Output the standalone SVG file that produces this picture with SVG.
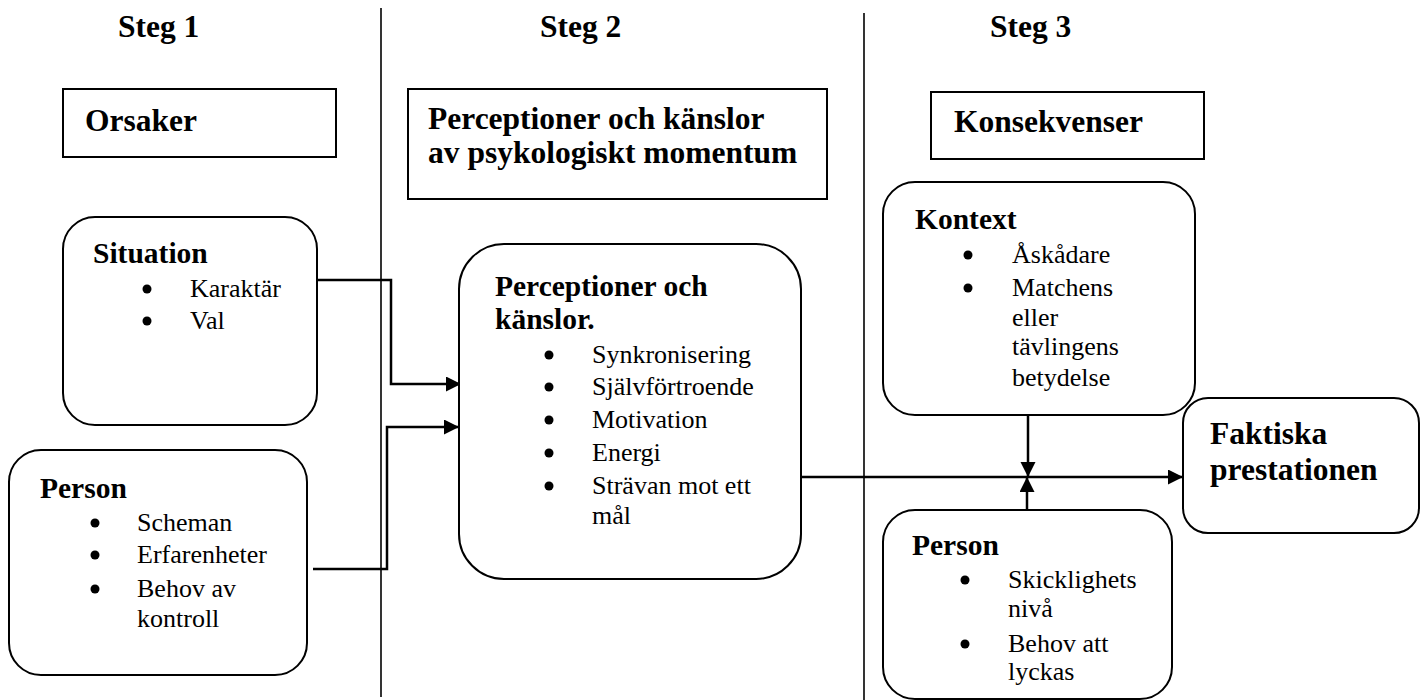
<svg xmlns="http://www.w3.org/2000/svg" width="1425" height="700" viewBox="0 0 1425 700">
<defs>
<style>
text{font-family:"Liberation Serif","Times New Roman",serif;fill:#000}
.h{font-weight:bold;font-size:31.5px}
.t{font-weight:bold;font-size:29.5px}
.r{font-size:26px}
.box{fill:#fff;stroke:#000;stroke-width:2}
.sep{stroke:#000;stroke-width:1.6;fill:none}
.con{stroke:#000;stroke-width:2.5;fill:none}
.dot{fill:#000}
</style>
<marker id="ah" markerUnits="userSpaceOnUse" markerWidth="16" markerHeight="16" refX="15" refY="7.5" orient="auto">
<path d="M0,0 L15,7.5 L0,15 z" fill="#000"/>
</marker>
</defs>
<rect width="1425" height="700" fill="#fff"/>

<g id="separators">
<line class="sep" x1="381" y1="8" x2="381" y2="697"/>
<line class="sep" x1="864" y1="13" x2="864" y2="700"/>
</g>

<g id="headers">
<text class="h" x="118" y="37">Steg 1</text>
<text class="h" x="540" y="37">Steg 2</text>
<text class="h" x="990" y="37">Steg 3</text>
</g>

<g id="orsaker">
<rect class="box" x="63" y="89" width="273" height="68"/>
<text class="h" x="85" y="131">Orsaker</text>
</g>

<g id="perceptioner-rubrik">
<rect class="box" x="408" y="89" width="419" height="110"/>
<text class="h" x="428" y="129">Perceptioner och känslor</text>
<text class="h" x="428" y="163">av psykologiskt momentum</text>
</g>

<g id="konsekvenser">
<rect class="box" x="931" y="92" width="273" height="67"/>
<text class="h" x="954" y="132">Konsekvenser</text>
</g>

<g id="connectors">
<path class="con" d="M317,280 H391 V384 H461" marker-end="url(#ah)"/>
<path class="con" d="M313,569 H387 V427 H459" marker-end="url(#ah)"/>
<path class="con" d="M797,477 H1183" marker-end="url(#ah)"/>
<path class="con" d="M1028,416 V477" marker-end="url(#ah)"/>
<path class="con" d="M1027,510 V477" marker-end="url(#ah)"/>
</g>

<g id="situation">
<rect class="box" x="63" y="217" width="254" height="208" rx="32" ry="32"/>
<text class="t" x="93" y="263">Situation</text>
<circle class="dot" cx="147" cy="289" r="4.5"/>
<text class="r" x="190" y="297">Karaktär</text>
<circle class="dot" cx="147" cy="321" r="4.5"/>
<text class="r" x="190" y="329">Val</text>
</g>

<g id="person-1">
<rect class="box" x="9" y="450" width="298" height="225" rx="32" ry="32"/>
<text class="t" x="40" y="498">Person</text>
<circle class="dot" cx="95" cy="523" r="4.5"/>
<text class="r" x="137" y="531">Scheman</text>
<circle class="dot" cx="95" cy="555" r="4.5"/>
<text class="r" x="137" y="563">Erfarenheter</text>
<circle class="dot" cx="95" cy="589" r="4.5"/>
<text class="r" x="137" y="597">Behov av</text>
<text class="r" x="137" y="627">kontroll</text>
</g>

<g id="perceptioner">
<rect class="box" x="459" y="244" width="342" height="335" rx="45" ry="45"/>
<text class="t" x="495" y="296">Perceptioner och</text>
<text class="t" x="495" y="329">känslor.</text>
<circle class="dot" cx="549" cy="355" r="4.5"/>
<text class="r" x="592" y="363">Synkronisering</text>
<circle class="dot" cx="549" cy="387" r="4.5"/>
<text class="r" x="592" y="395">Självförtroende</text>
<circle class="dot" cx="549" cy="420" r="4.5"/>
<text class="r" x="592" y="428">Motivation</text>
<circle class="dot" cx="549" cy="453" r="4.5"/>
<text class="r" x="592" y="461">Energi</text>
<circle class="dot" cx="549" cy="486" r="4.5"/>
<text class="r" x="592" y="494">Strävan mot ett</text>
<text class="r" x="592" y="524">mål</text>
</g>

<g id="kontext">
<rect class="box" x="883" y="182" width="312" height="233" rx="32" ry="32"/>
<text class="t" x="915" y="229">Kontext</text>
<circle class="dot" cx="968" cy="255" r="4.5"/>
<text class="r" x="1012" y="263">Åskådare</text>
<circle class="dot" cx="968" cy="288" r="4.5"/>
<text class="r" x="1012" y="296">Matchens</text>
<text class="r" x="1012" y="326">eller</text>
<text class="r" x="1012" y="355">tävlingens</text>
<text class="r" x="1012" y="386">betydelse</text>
</g>

<g id="person-2">
<rect class="box" x="883" y="510" width="289" height="189" rx="32" ry="32"/>
<text class="t" x="912" y="555">Person</text>
<circle class="dot" cx="965" cy="580" r="4.5"/>
<text class="r" x="1008" y="588">Skicklighets</text>
<text class="r" x="1008" y="617">nivå</text>
<circle class="dot" cx="965" cy="644" r="4.5"/>
<text class="r" x="1008" y="652">Behov att</text>
<text class="r" x="1008" y="680">lyckas</text>
</g>

<g id="faktiska">
<rect class="box" x="1183" y="398" width="236" height="135" rx="25" ry="25"/>
<text class="h" x="1210" y="444">Faktiska</text>
<text class="h" x="1210" y="480">prestationen</text>
</g>
</svg>
